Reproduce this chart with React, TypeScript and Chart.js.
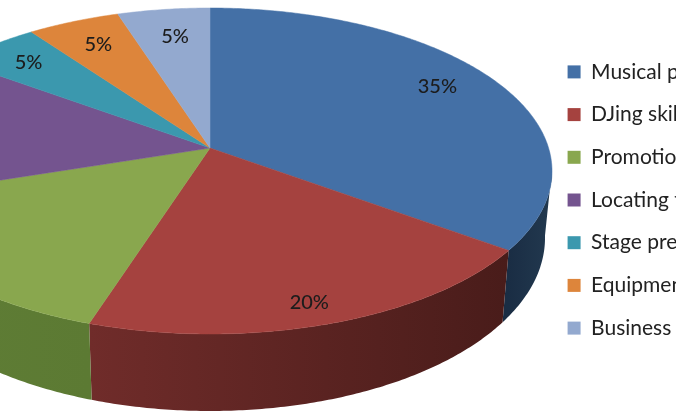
import React, { useEffect, useRef } from "react";
import { Chart, registerables } from "chart.js";

Chart.register(...registerables);

const categories = [
  "Musical production",
  "DJing skills",
  "Promotion",
  "Locating target audience",
  "Stage presence",
  "Equipment",
  "Business skills",
];
const shares = [35, 20, 15, 15, 5, 5, 5];
const faceColors = ["#4470a6", "#a5423f", "#89a74e", "#74548f", "#3b98ae", "#dd853b", "#93a9cf"];
const wallLeft = ["#1a2d44", "#702c2a", "#607e36", "#4c3560", "#25667a", "#96592a", "#627188"];
const wallRight = ["#22394f", "#491c1a", "#5c7a33", "#4c3560", "#25667a", "#96592a", "#627188"];
const labelRadii = [0.82, 0.89, 0.95, 0.8, 0.82, 0.8, 0.78];
const labelTurn = [-0.052, 0.02, 0, 0, 0, 0, 0.01];

const TOP = { cx: 210, cy: 171, rx: 342, ry: 163 };
const BOTTOM = { cx: 210, cy: 238, rx: 335, ry: 173 };
const TILT = -0.141;

// projective mapping of a unit disc: the pie's centre lands off the ellipse centre (perspective)
function project(theta: number, r = 1) {
  const x = r * Math.sin(theta);
  const y = -r * Math.cos(theta);
  const d = 1 + TILT * y;
  return { x: (x * Math.sqrt(1 - TILT * TILT)) / d, y: (y + TILT) / d };
}

const perspectivePie = {
  id: "perspectivePie",
  beforeDatasetsDraw(chart: any) {
    const ctx = chart.ctx;
    const arcs = chart.getDatasetMeta(0).data;
    const span = (el: any) => {
      const a = el.startAngle + Math.PI / 2;
      const b = el.endAngle + Math.PI / 2;
      const n = Math.max(2, Math.ceil((b - a) / 0.01));
      const pts: { x: number; y: number }[] = [];
      for (let i = 0; i <= n; i++) pts.push(project(a + ((b - a) * i) / n));
      return pts;
    };
    ctx.save();
    arcs.forEach((el: any, i: number) => {
      const pts = span(el).filter((p) => p.y >= -0.02);
      if (pts.length < 2) return;
      const xs = pts.map((p) => TOP.cx + p.x * TOP.rx);
      const g = ctx.createLinearGradient(Math.min(...xs), 0, Math.max(...xs), 0);
      g.addColorStop(0, wallLeft[i]);
      g.addColorStop(1, wallRight[i]);
      ctx.fillStyle = g;
      ctx.beginPath();
      pts.forEach((p, k) => {
        const px = TOP.cx + p.x * TOP.rx;
        const py = TOP.cy + p.y * TOP.ry;
        if (k === 0) ctx.moveTo(px, py);
        else ctx.lineTo(px, py);
      });
      [...pts].reverse().forEach((p) => ctx.lineTo(BOTTOM.cx + p.x * BOTTOM.rx, BOTTOM.cy + p.y * BOTTOM.ry));
      ctx.closePath();
      ctx.fill();
    });
    const apex = project(0, 0);
    arcs.forEach((el: any, i: number) => {
      ctx.fillStyle = faceColors[i];
      ctx.strokeStyle = faceColors[i];
      ctx.lineWidth = 0.5;
      ctx.beginPath();
      ctx.moveTo(TOP.cx + apex.x * TOP.rx, TOP.cy + apex.y * TOP.ry);
      span(el).forEach((p) => ctx.lineTo(TOP.cx + p.x * TOP.rx, TOP.cy + p.y * TOP.ry));
      ctx.closePath();
      ctx.fill();
      ctx.stroke();
    });
    ctx.fillStyle = "#1c1c1c";
    ctx.font = "500 20px Lato";
    ctx.textAlign = "center";
    ctx.textBaseline = "middle";
    arcs.forEach((el: any, i: number) => {
      const mid = (el.startAngle + el.endAngle) / 2 + Math.PI / 2 + labelTurn[i];
      const p = project(mid, labelRadii[i]);
      ctx.fillText(`${shares[i]}%`, TOP.cx + p.x * TOP.rx, TOP.cy + p.y * TOP.ry);
    });
    ctx.restore();
    return false;
  },
};

export default function App() {
  const ref = useRef<HTMLCanvasElement>(null);
  useEffect(() => {
    const chart = new Chart(ref.current!, {
      type: "pie",
      data: {
        labels: categories,
        datasets: [{ data: shares, backgroundColor: faceColors, borderWidth: 0 }],
      },
      options: {
        animation: false,
        responsive: false,
        layout: { padding: { right: 73, bottom: 20 } },
        plugins: {
          tooltip: { enabled: false },
          legend: {
            position: "right",
            align: "center",
            labels: {
              boxWidth: 13,
              boxHeight: 13,
              padding: 21.7,
              color: "#222222",
              font: { family: "Lato", size: 21 },
            },
          },
        },
      },
      plugins: [perspectivePie],
    });
    return () => chart.destroy();
  }, []);
  return (
    <div style={{ position: "fixed", left: 0, top: 0, width: 676, height: 420, overflow: "hidden", background: "#fff" }}>
      <canvas ref={ref} width={900} height={420} style={{ display: "block", filter: "blur(0.5px)" }} />
    </div>
  );
}
